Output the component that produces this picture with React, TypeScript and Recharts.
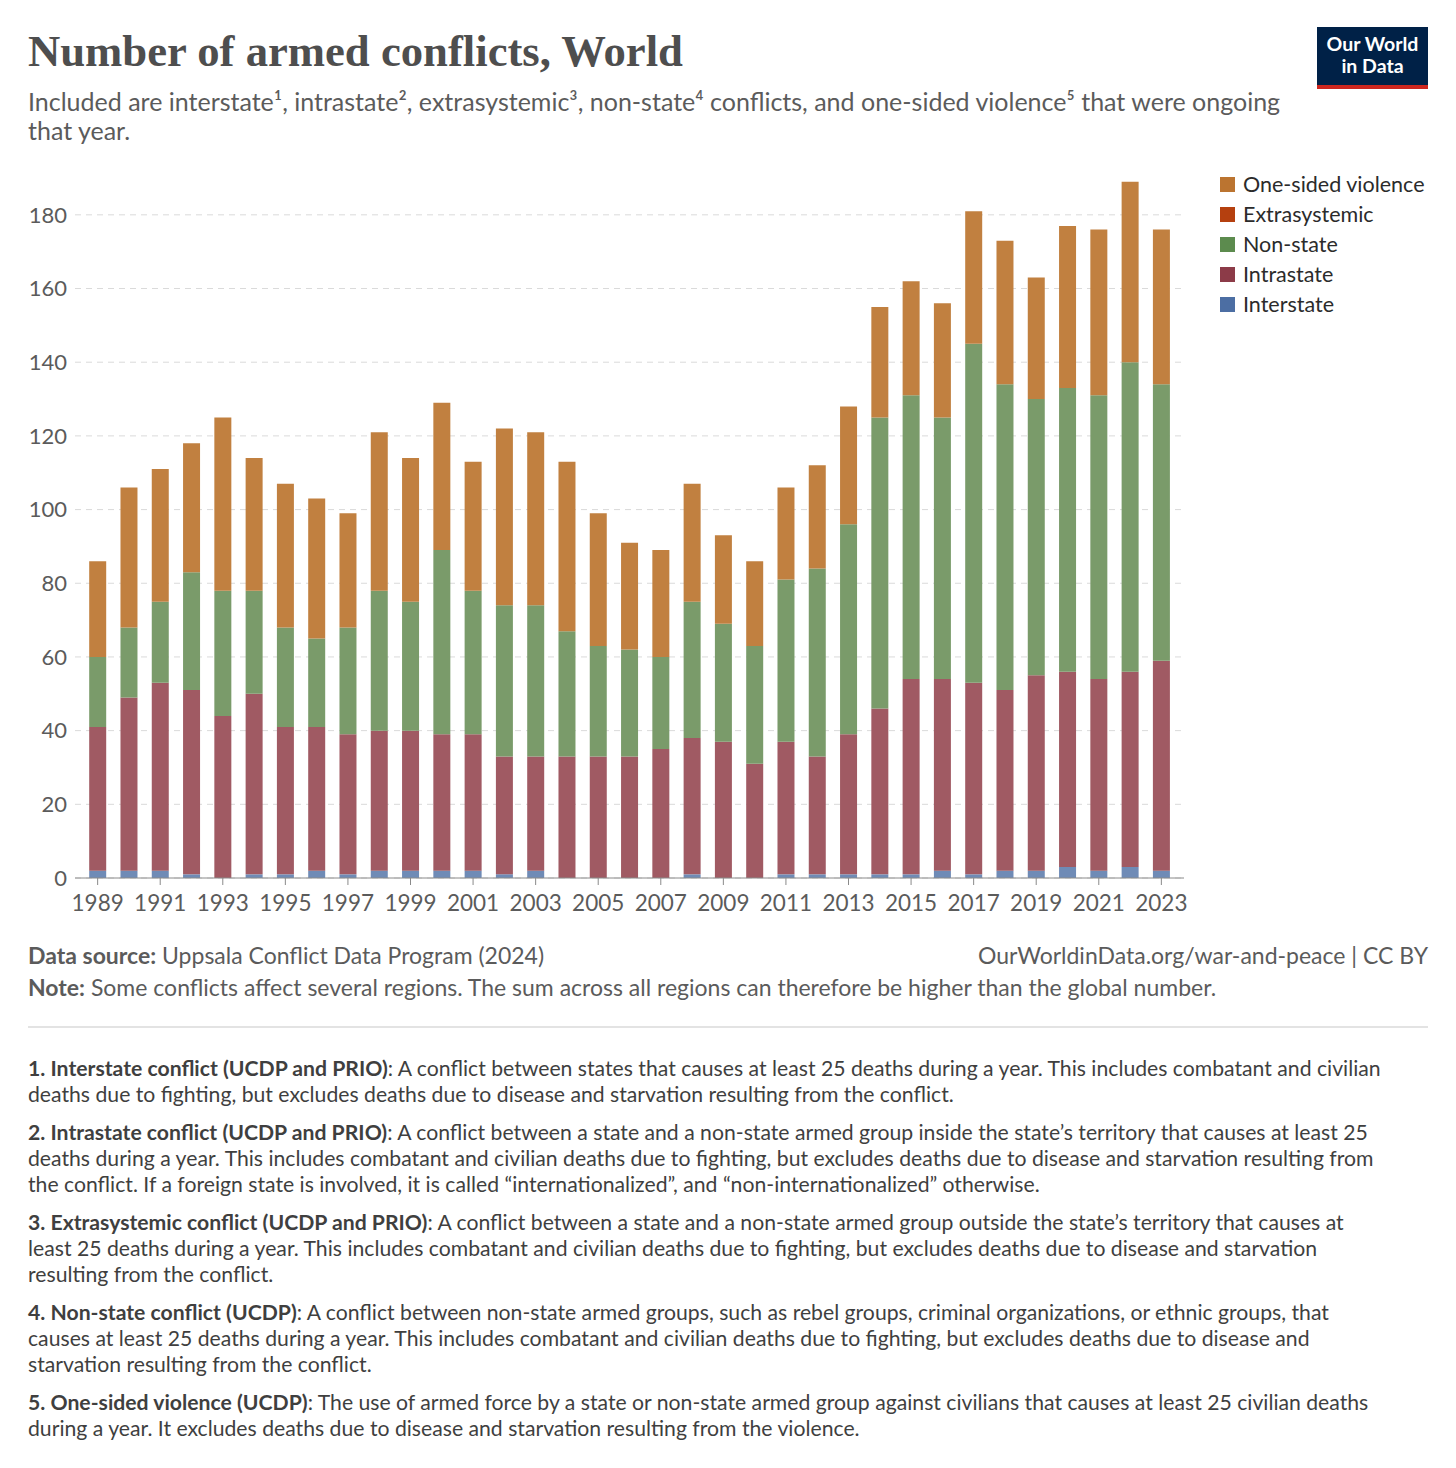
import React from 'react';
import { BarChart, Bar, XAxis, YAxis, CartesianGrid } from 'recharts';

const years = [
  1989, 1990, 1991, 1992, 1993, 1994, 1995, 1996, 1997, 1998, 1999, 2000,
  2001, 2002, 2003, 2004, 2005, 2006, 2007, 2008, 2009, 2010, 2011, 2012,
  2013, 2014, 2015, 2016, 2017, 2018, 2019, 2020, 2021, 2022, 2023,
];
const interstate = [2, 2, 2, 1, 0, 1, 1, 2, 1, 2, 2, 2, 2, 1, 2, 0, 0, 0, 0, 1, 0, 0, 1, 1, 1, 1, 1, 2, 1, 2, 2, 3, 2, 3, 2];
const intrastate = [39, 47, 51, 50, 44, 49, 40, 39, 38, 38, 38, 37, 37, 32, 31, 33, 33, 33, 35, 37, 37, 31, 36, 32, 38, 45, 53, 52, 52, 49, 53, 53, 52, 53, 57];
const nonState = [19, 19, 22, 32, 34, 28, 27, 24, 29, 38, 35, 50, 39, 41, 41, 34, 30, 29, 25, 37, 32, 32, 44, 51, 57, 79, 77, 71, 92, 83, 75, 77, 77, 84, 75];
const extrasystemic = [0, 0, 0, 0, 0, 0, 0, 0, 0, 0, 0, 0, 0, 0, 0, 0, 0, 0, 0, 0, 0, 0, 0, 0, 0, 0, 0, 0, 0, 0, 0, 0, 0, 0, 0];
const oneSided = [26, 38, 36, 35, 47, 36, 39, 38, 31, 43, 39, 40, 35, 48, 47, 46, 36, 29, 29, 32, 24, 23, 25, 28, 32, 30, 31, 31, 36, 39, 33, 44, 45, 49, 42];
const yTicks = [0, 20, 40, 60, 80, 100, 120, 140, 160, 180];

const data = years.map((y, i) => ({
  year: String(y),
  interstate: interstate[i],
  intrastate: intrastate[i],
  nonState: nonState[i],
  extrasystemic: extrasystemic[i],
  oneSided: oneSided[i],
}));

const series = [
  { key: 'interstate', name: 'Interstate', fill: '#6f8bb6', swatch: '#4c6ea3' },
  { key: 'intrastate', name: 'Intrastate', fill: '#a05a63', swatch: '#8c3b48' },
  { key: 'nonState', name: 'Non-state', fill: '#7a9b6a', swatch: '#5c8b4e' },
  { key: 'extrasystemic', name: 'Extrasystemic', fill: '#c24a1c', swatch: '#b5400f' },
  { key: 'oneSided', name: 'One-sided violence', fill: '#c18040', swatch: '#bb7430' },
];

const font = 'Lato, "Noto Sans", sans-serif';
const grey = '#5b5b5b';

const notes: [string, string, string[]][] = [
  ['1. Interstate conflict (UCDP and PRIO)', ': A conflict between states that causes at least 25 deaths during a year. This includes combatant and civilian', [
    'deaths due to fighting, but excludes deaths due to disease and starvation resulting from the conflict.',
  ]],
  ['2. Intrastate conflict (UCDP and PRIO)', ': A conflict between a state and a non-state armed group inside the state’s territory that causes at least 25', [
    'deaths during a year. This includes combatant and civilian deaths due to fighting, but excludes deaths due to disease and starvation resulting from',
    'the conflict. If a foreign state is involved, it is called “internationalized”, and “non-internationalized” otherwise.',
  ]],
  ['3. Extrasystemic conflict (UCDP and PRIO)', ': A conflict between a state and a non-state armed group outside the state’s territory that causes at', [
    'least 25 deaths during a year. This includes combatant and civilian deaths due to fighting, but excludes deaths due to disease and starvation',
    'resulting from the conflict.',
  ]],
  ['4. Non-state conflict (UCDP)', ': A conflict between non-state armed groups, such as rebel groups, criminal organizations, or ethnic groups, that', [
    'causes at least 25 deaths during a year. This includes combatant and civilian deaths due to fighting, but excludes deaths due to disease and',
    'starvation resulting from the conflict.',
  ]],
  ['5. One-sided violence (UCDP)', ': The use of armed force by a state or non-state armed group against civilians that causes at least 25 civilian deaths', [
    'during a year. It excludes deaths due to disease and starvation resulting from the violence.',
  ]],
];

export default function App() {
  const legendItems = [...series].reverse();
  return (
    <div style={{ position: 'absolute', left: 0, top: 0, width: 1456, height: 1468, background: '#fff', fontFamily: font }}>
      <div style={{ position: 'absolute', left: 28, top: 25, fontFamily: '"Liberation Serif", serif', fontWeight: 700, fontSize: 44.7, color: '#4e4e4e', whiteSpace: 'nowrap' }}>
        Number of armed conflicts, World
      </div>
      <div style={{ position: 'absolute', left: 28, top: 87, fontSize: 25, lineHeight: '29px', color: grey, whiteSpace: 'nowrap' }}>
        Included are interstate¹, intrastate², extrasystemic³, non-state⁴ conflicts, and one-sided violence⁵ that were ongoing
        <br />
        that year.
      </div>
      <div style={{ position: 'absolute', left: 1317, top: 27, width: 111, height: 62, background: '#002147', color: '#fff', textAlign: 'center', fontWeight: 700, fontSize: 19.5, lineHeight: '22px', boxSizing: 'border-box', paddingTop: 6 }}>
        <div>Our World</div>
        <div>in Data</div>
        <div style={{ position: 'absolute', left: 0, bottom: 0, width: 111, height: 4, background: '#ce261e' }} />
      </div>

      <div style={{ position: 'absolute', left: 0, top: 160 }}>
        <BarChart width={1200} height={758} data={data} margin={{ top: 18, right: 16, bottom: 0, left: 0 }} barCategoryGap="23%">
          <CartesianGrid vertical={false} stroke="#dadada" strokeDasharray="6 5" horizontalValues={yTicks} />
          <XAxis
            dataKey="year"
            interval={1}
            height={40}
            padding={{ left: 7, right: 7 }}
            tick={{ fill: grey, fontSize: 22.5, fontFamily: font }}
            tickSize={7}
            tickMargin={10}
            axisLine={{ stroke: '#8a8a8a' }}
            tickLine={{ stroke: '#8a8a8a' }}
          />
          <YAxis
            width={75}
            domain={[0, 190]}
            ticks={yTicks}
            tick={{ fill: grey, fontSize: 22, fontFamily: font }}
            axisLine={false}
            tickLine={false}
          />
          {series.map((s) => (
            <Bar key={s.key} dataKey={s.key} name={s.name} stackId="a" fill={s.fill} isAnimationActive={false} />
          ))}
        </BarChart>
      </div>

      <div style={{ position: 'absolute', left: 1220, top: 169 }}>
        {legendItems.map((s) => (
          <div key={s.key} style={{ display: 'flex', alignItems: 'center', height: 30, fontSize: 21.5, color: '#2b2b2b', whiteSpace: 'nowrap' }}>
            <div style={{ width: 15, height: 15, background: s.swatch, marginRight: 8 }} />
            {s.name}
          </div>
        ))}
      </div>

      <div style={{ position: 'absolute', left: 28, top: 941, fontSize: 23, color: grey, whiteSpace: 'nowrap' }}>
        <b style={{ fontWeight: 700 }}>Data source:</b> Uppsala Conflict Data Program (2024)
      </div>
      <div style={{ position: 'absolute', right: 28, top: 941, fontSize: 23, color: grey, whiteSpace: 'nowrap' }}>
        OurWorldinData.org/war-and-peace | CC BY
      </div>
      <div style={{ position: 'absolute', left: 28, top: 973, fontSize: 23, color: grey, whiteSpace: 'nowrap' }}>
        <b style={{ fontWeight: 700 }}>Note:</b> Some conflicts affect several regions. The sum across all regions can therefore be higher than the global number.
      </div>
      <div style={{ position: 'absolute', left: 28, top: 1026, width: 1400, height: 2, background: '#e3e3e3' }} />

      <div style={{ position: 'absolute', left: 28, top: 1055, fontSize: 21.2, lineHeight: '26px', color: '#3f3f3f', whiteSpace: 'nowrap' }}>
        {notes.map(([head, rest, lines], i) => (
          <div key={i} style={{ marginBottom: 12 }}>
            <b style={{ fontWeight: 700 }}>{head}</b>{rest}
            {lines.map((l, j) => (
              <div key={j}>{l}</div>
            ))}
          </div>
        ))}
      </div>
    </div>
  );
}
